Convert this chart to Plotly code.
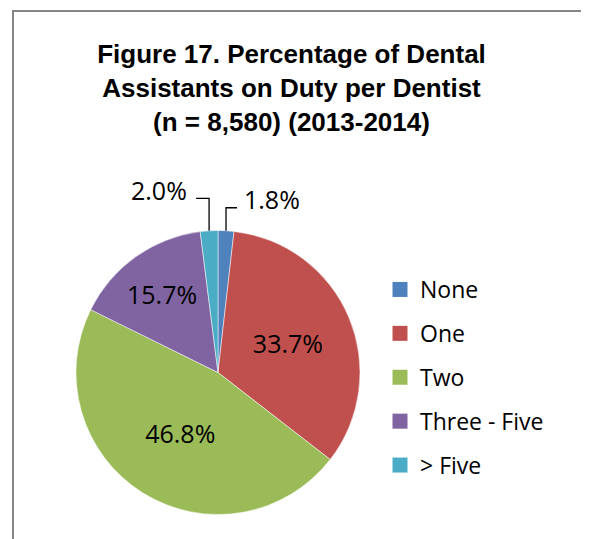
import math
import plotly.graph_objects as go

categories = ["None", "One", "Two", "Three - Five", "> Five"]
values = [1.8, 33.7, 46.8, 15.7, 2.0]
colors = ["#4F81BD", "#C0504D", "#9BBB59", "#8064A2", "#4BACC6"]
title_lines = ["Figure 17. Percentage of Dental",
               "Assistants on Duty per Dentist",
               "(n = 8,580) (2013-2014)"]

W, H = 589, 539
OFF = 8  # page body margin in the browser


def px(x):  # screen pixel x -> paper
    return (x - OFF) / W


def py(y):  # screen pixel y -> paper
    return 1 - (y - OFF) / H


cx, cy, r = 218, 372.5, 142  # pie centre / radius on screen
label_font = dict(family="Open Sans", size=25, color="black")

# outside-label placement (leader line: up, then sideways; label offset)
outside = {0: dict(up=23, side=11, gap=5, dy=-9),
           4: dict(up=32.5, side=-13, gap=-7, dy=-8)}

fig = go.Figure()
fig.add_trace(go.Pie(
    labels=categories, values=values, sort=False, direction="clockwise",
    rotation=0, marker=dict(colors=colors, line=dict(color="white", width=0.5)),
    texttemplate=["" if i in outside else "%{value:.1f}%" for i in range(len(values))],
    textposition=["none" if i in outside else "inside" for i in range(len(values))],
    textfont=label_font,
    insidetextorientation="horizontal",
    showlegend=False, hoverinfo="label+percent",
    domain=dict(x=[px(cx - r), px(cx + r)], y=[py(cy + r), py(cy - r)]),
))

shapes = [dict(type="rect", xref="paper", yref="paper",
               x0=px(13), x1=1.2, y0=-0.2, y1=py(11),
               line=dict(color="#868686", width=2), layer="below")]
annotations = []
total = sum(values)
cum = 0.0
for i, v in enumerate(values):
    mid = (cum + v / 2) / total * 2 * math.pi
    cum += v
    if i not in outside:
        continue
    o = outside[i]
    ex, ey = cx + r * math.sin(mid), cy - r * math.cos(mid)
    kx, ky = ex, ey - o["up"]
    hx = kx + o["side"]
    shapes.append(dict(type="path", xref="paper", yref="paper",
                       path=f"M {px(ex)} {py(ey)} L {px(kx)} {py(ky)} L {px(hx)} {py(ky)}",
                       line=dict(color="black", width=1.3)))
    annotations.append(dict(
        x=px(hx + o["gap"]), y=py(ky + o["dy"]), xref="paper", yref="paper",
        text=f"{v:.1f}%", showarrow=False, font=label_font,
        xanchor="left" if o["side"] > 0 else "right", yanchor="middle"))

for i, (c, col) in enumerate(zip(categories, colors)):
    fig.add_trace(go.Scatter(
        x=[None], y=[None], mode="markers", name=c, legendgroup=str(i),
        marker=dict(symbol="square", size=15, color=col),
    ))

fig.update_layout(
    width=W, height=H, margin=dict(l=0, r=0, t=0, b=0),
    paper_bgcolor="white", plot_bgcolor="white",
    xaxis=dict(visible=False), yaxis=dict(visible=False),
    title=dict(text="<b>" + "<br>".join(title_lines) + "</b>",
               font=dict(family="Liberation Sans, Arial", size=26, color="black"),
               x=px(291.5), xanchor="center", y=py(63), yanchor="top"),
    legend=dict(x=px(380), y=py(268), xanchor="left", yanchor="top",
                font=dict(family="Open Sans", size=23, color="black"),
                tracegroupgap=11, bgcolor="rgba(0,0,0,0)"),
    shapes=shapes, annotations=annotations,
)
fig.write_html("out.html")
